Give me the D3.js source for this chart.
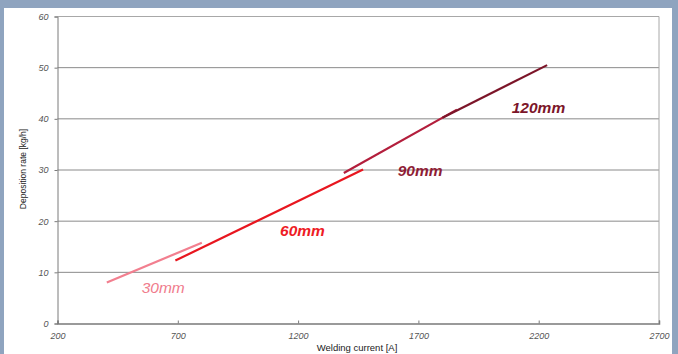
<!DOCTYPE html>
<html>
<head>
<meta charset="utf-8">
<script src="https://cdn.jsdelivr.net/npm/d3@7"></script>
<style>
  html, body { margin: 0; padding: 0; background: #8fa4bf; }
  svg { display: block; }
  text { font-family: "Liberation Sans", Arial, sans-serif; }
</style>
</head>
<body>
<svg id="chart" width="678" height="354"></svg>
<script>
// ---- data ----
const seriesNames   = ["30mm", "60mm", "90mm", "120mm"];
const currentStart  = [405, 690, 1390, 1800];
const currentEnd    = [800, 1470, 1860, 2235];
const rateStart     = [8.0, 12.3, 29.4, 40.2];
const rateEnd       = [15.8, 30.1, 41.8, 50.5];
const labelCurrent  = [550, 1125, 1614, 2088];
const labelRate     = [5.95, 17.07, 28.8, 41.2];
const xTicks        = [200, 700, 1200, 1700, 2200, 2700];
const yTicks        = [0, 10, 20, 30, 40, 50, 60];
const xTitle = "Welding current [A]";
const yTitle = "Deposition rate [kg/h]";

// ---- styles ----
const lineColors  = ["#f27f8f", "#e8161f", "#b31e3c", "#7c1529"];
const labelColors = ["#f07b8c", "#ee1c25", "#8f1d35", "#7c1529"];
const labelWeights = ["normal", "bold", "bold", "bold"];

const svg = d3.select("#chart");
// white panel
svg.append("rect").attr("x", 4).attr("y", 8).attr("width", 668).attr("height", 346).attr("fill", "#ffffff");

const x = d3.scaleLinear().domain([200, 2700]).range([57.5, 659]);
const y = d3.scaleLinear().domain([0, 60]).range([323.5, 16.5]);

// gridlines
svg.append("g")
  .selectAll("line")
  .data(yTicks.filter(d => d > 0 && d < 60))
  .join("line")
  .attr("x1", x(200)).attr("x2", x(2700))
  .attr("y1", d => y(d)).attr("y2", d => y(d))
  .attr("stroke", "#8a8a8a").attr("stroke-width", 1);

// plot border (top, right)
svg.append("path")
  .attr("d", `M${x(200)},${y(60)}H${x(2700)}V${y(0)}`)
  .attr("fill", "none").attr("stroke", "#a8a8a8").attr("stroke-width", 1);

// y axis
const yAxis = svg.append("g")
  .attr("transform", `translate(${x(200)},0)`)
  .call(d3.axisLeft(y).tickValues(yTicks).tickSize(3).tickPadding(6).tickFormat(d3.format("d")));
yAxis.select(".domain").attr("stroke", "#7a7a7a");
yAxis.selectAll(".tick line").attr("stroke", "#7a7a7a");
yAxis.selectAll(".tick text").attr("font-size", 9).attr("font-style", "italic").attr("fill", "#555").attr("font-family", "\"Liberation Sans\", Arial, sans-serif");

// x axis
const xAxis = svg.append("g")
  .attr("transform", `translate(0,${y(0)})`)
  .call(d3.axisBottom(x).tickValues(xTicks).tickSize(-3).tickPadding(9).tickFormat(d3.format("d")));
xAxis.select(".domain").attr("stroke", "#7a7a7a").attr("stroke-width", 1.5);
xAxis.selectAll(".tick line").attr("stroke", "#7a7a7a");
xAxis.selectAll(".tick text").attr("font-size", 9).attr("font-style", "italic").attr("fill", "#555").attr("font-family", "\"Liberation Sans\", Arial, sans-serif");

// titles
svg.append("text")
  .attr("x", 357).attr("y", 351)
  .attr("text-anchor", "middle").attr("font-size", 9.5).attr("fill", "#222")
  .text(xTitle);
svg.append("text")
  .attr("transform", "translate(26,169) rotate(-90)")
  .attr("text-anchor", "middle").attr("font-size", 8.5).attr("fill", "#222")
  .text(yTitle);

// series lines
const segs = seriesNames.map((n, i) => ({
  name: n,
  pts: [[currentStart[i], rateStart[i]], [currentEnd[i], rateEnd[i]]],
  color: lineColors[i]
}));
const lineGen = d3.line().x(d => x(d[0])).y(d => y(d[1]));
svg.append("g")
  .selectAll("path")
  .data(segs)
  .join("path")
  .attr("d", d => lineGen(d.pts))
  .attr("fill", "none")
  .attr("stroke", d => d.color)
  .attr("stroke-width", 2.2);

// series labels
svg.append("g")
  .selectAll("text")
  .data(seriesNames)
  .join("text")
  .attr("x", (d, i) => x(labelCurrent[i]))
  .attr("y", (d, i) => y(labelRate[i]))
  .attr("font-size", 15.5)
  .attr("font-style", "italic")
  .attr("font-weight", (d, i) => labelWeights[i])
  .attr("fill", (d, i) => labelColors[i])
  .text(d => d);
</script>
</body>
</html>
